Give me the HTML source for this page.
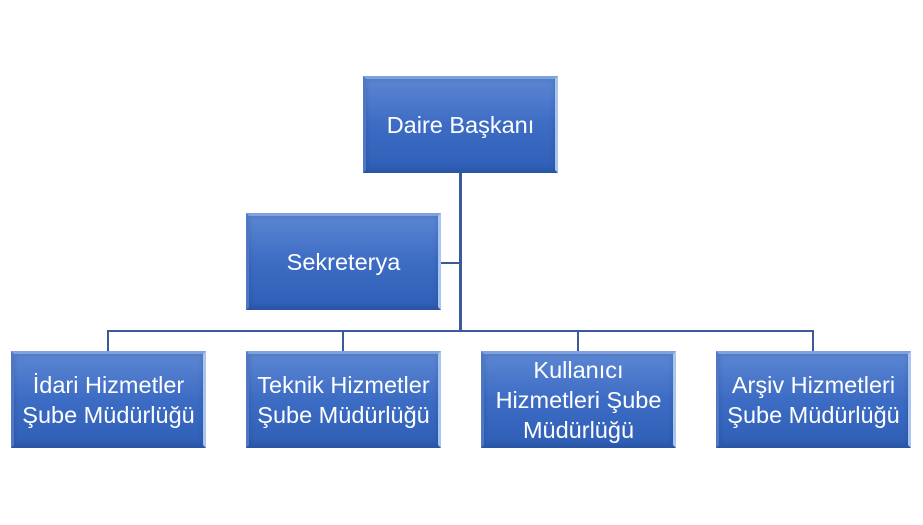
<!DOCTYPE html>
<html><head><meta charset="utf-8"><style>
body{margin:0;width:923px;height:525px;background:#fff;position:relative;overflow:hidden;font-family:"Liberation Sans",sans-serif}
.b{position:absolute;width:195px;height:97px;box-sizing:border-box;background:linear-gradient(#5b86d2,#3d6cc4 50%,#2f5fb6);color:#fff;display:flex;align-items:center;justify-content:center;text-align:center;font-size:23.5px;line-height:30px;white-space:nowrap;
border-top:3px solid #7ea2e0;border-left:3px solid #5077c4;border-right:3px solid #a9c4ee;border-bottom:3px solid #2a56a8;box-shadow:inset 0 0 6px rgba(0,0,0,.15)}
.l{position:absolute;background:#3a5a9c}
</style></head><body>
<div class="l" style="left:459px;top:173px;width:3px;height:159px"></div>
<div class="l" style="left:440px;top:262px;width:20px;height:2px"></div>
<div class="l" style="left:107px;top:330px;width:707px;height:2px"></div>
<div class="l" style="left:107px;top:330px;width:2px;height:21px"></div>
<div class="l" style="left:342px;top:330px;width:2px;height:21px"></div>
<div class="l" style="left:577px;top:330px;width:2px;height:21px"></div>
<div class="l" style="left:812px;top:330px;width:2px;height:21px"></div>
<div class="b" style="left:363px;top:76px">Daire Başkanı</div>
<div class="b" style="left:246px;top:213px">Sekreterya</div>
<div class="b" style="left:11px;top:351px">İdari Hizmetler<br>Şube Müdürlüğü</div>
<div class="b" style="left:246px;top:351px">Teknik Hizmetler<br>Şube Müdürlüğü</div>
<div class="b" style="left:481px;top:351px">Kullanıcı<br>Hizmetleri Şube<br>Müdürlüğü</div>
<div class="b" style="left:716px;top:351px">Arşiv Hizmetleri<br>Şube Müdürlüğü</div>
</body></html>
